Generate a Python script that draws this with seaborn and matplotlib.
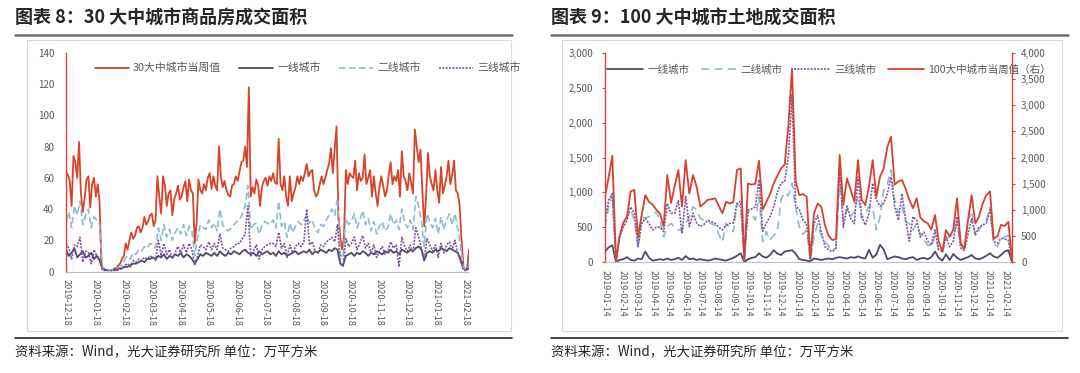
import numpy as np
import pandas as pd
import matplotlib
matplotlib.use("Agg")
import matplotlib.pyplot as plt
from matplotlib.lines import Line2D
from matplotlib.patches import Rectangle
from matplotlib.ticker import FixedLocator, FuncFormatter
import seaborn as sns

sns.set_theme(style="white")
plt.rcParams['font.family'] = ['Noto Sans CJK SC', 'DejaVu Sans']
plt.rcParams['axes.unicode_minus'] = False

# ---------------- Chart 8 data, 万平方米 ----------------
# 30-city total: every 2 days from 2019-12-18
c8_start = "2019-12-18"
c8_total = [64, 62, 58, 42, 74, 70, 60, 83, 50, 38, 47, 59, 61, 41, 56, 60, 48, 56, 44, 4,
            2, 1, 1, 1, 1, 1, 2, 2, 4, 5, 8, 10, 18, 14, 20, 25, 21, 23, 28, 29,
            25, 28, 35, 30, 32, 36, 37, 29, 33,
            61, 48, 37, 61, 55, 42, 50, 52, 36, 46, 50, 55, 46, 48, 54, 58, 45, 59, 52, 50, 18,
            31, 59, 52, 50, 56, 52, 60, 63, 53, 61, 55, 52, 80, 61, 54, 58, 52, 49, 48, 55,
            56, 61, 58, 64, 70, 71, 80, 67, 118, 48, 54, 50, 59, 55, 42, 54, 58, 60, 55, 61,
            58, 63, 57, 56, 85, 56, 52, 61, 48, 42, 61, 45, 50, 54, 61, 56, 61, 58, 63, 69,
            61, 64, 65, 52, 48, 50, 56, 61, 56, 60, 65, 69, 79, 63, 78, 93, 35, 22, 14, 22,
            65, 56, 63, 61, 60, 71, 52, 63, 58, 60, 75, 56, 60, 65, 48, 61, 50, 42, 54, 61,
            55, 48, 52, 62, 70, 56, 61, 58, 65, 48, 77, 61, 58, 52, 63, 57, 50, 91, 80, 70,
            78, 52, 29, 48, 76, 61, 56, 52, 65, 52, 44, 67, 50, 55, 61, 71, 56, 62, 71, 52,
            50, 42, 20, 3, 1, 2, 14]
# tiers: every 3 days from 2019-12-18
c8_tier1 = [14, 10, 12, 15, 9, 11, 13, 9, 10, 12, 8, 10, 7,
            2, 1, 1, 1, 1, 1, 2, 2,
            3, 3, 4, 5, 5, 6, 7, 6, 8, 8, 9, 8,
            10, 9, 11, 8, 10, 9, 11, 10, 12, 9, 11, 10, 8,
            5,
            8, 11, 10, 12, 11, 10, 12, 10, 13, 11, 10, 12, 11, 13, 12, 11, 13, 14, 12,
            11, 12, 10, 13, 11, 12, 13, 11, 12, 10, 13, 11, 12, 10, 11, 12, 13, 11, 12, 13,
            12, 14, 11, 13, 12, 14, 13, 12, 14, 13, 15, 14,
            5, 4,
            10, 11, 12, 10, 12, 11, 13, 12, 10, 12, 11, 13, 12, 11, 13, 12, 14, 12, 13, 11,
            14, 13, 12, 14, 13, 15, 16, 14,
            7,
            12, 13, 12, 14, 13, 15, 14, 13, 15, 14, 13, 12,
            8, 2, 1, 2]
c8_tier2 = [32, 38, 28, 42, 36, 45, 30, 36, 40, 28, 35, 33, 30,
            3, 1, 1, 1, 1, 2, 3, 4,
            8, 10, 8, 12, 11, 14, 13, 16, 15, 18, 17, 15,
            28, 20, 30, 22, 27, 20, 25, 28, 24, 30, 23, 29, 26,
            10,
            22, 30, 28, 27, 33, 28, 31, 26, 40, 30, 27, 26, 28, 30, 32, 33, 37, 42, 55,
            27, 30, 31, 24, 29, 32, 31, 30, 33, 28, 45, 29, 32, 22, 31, 25, 29, 32, 30, 33,
            36, 31, 33, 27, 25, 30, 29, 33, 36, 40, 36, 47,
            11, 9,
            34, 30, 32, 37, 28, 33, 39, 30, 34, 26, 32, 24, 29, 32, 26, 28, 37, 30, 33, 27,
            40, 32, 28, 33, 27, 48, 42, 32,
            16,
            37, 32, 28, 34, 24, 35, 27, 33, 37, 30, 37, 27,
            16, 2, 1, 6]
c8_tier3 = [18, 15, 8, 17, 16, 22, 6, 13, 12, 5, 14, 10, 9,
            1, 0.5, 0.5, 0.5, 0.5, 1, 1, 2,
            4, 5, 3, 7, 6, 8, 7, 9, 8, 10, 9, 7,
            20, 10, 18, 11, 14, 8, 12, 16, 12, 17, 12, 18, 14,
            4,
            10, 17, 16, 14, 19, 14, 18, 14, 24, 15, 14, 13, 15, 16, 18, 18, 21, 24, 42,
            10, 13, 17, 8, 14, 16, 17, 18, 18, 16, 25, 15, 18, 9, 17, 12, 16, 18, 16, 19,
            40, 17, 19, 13, 12, 17, 16, 19, 20, 22, 19, 30,
            5, 3,
            21, 16, 18, 22, 14, 18, 23, 15, 18, 12, 17, 9, 13, 16, 11, 13, 19, 15, 17, 3,
            22, 16, 13, 17, 12, 28, 22, 15,
            8,
            21, 17, 13, 17, 9, 18, 12, 17, 19, 14, 20, 11,
            6, 1, 0.5, 6]
c8_ticks = ["2019-12-18", "2020-01-18", "2020-02-18", "2020-03-18", "2020-04-18",
            "2020-05-18", "2020-06-18", "2020-07-18", "2020-08-18", "2020-09-18",
            "2020-10-18", "2020-11-18", "2020-12-18", "2021-01-18", "2021-02-18"]
c8_labels = ["30大中城市当周值", "一线城市", "二线城市", "三线城市"]

# ---------------- Chart 9 data (weekly from 2019-01-13), 万平方米 ----------------
c9_start = "2019-01-13"
c9_total = [1250, 1620, 2035, 20, 500, 750, 870, 1350, 1380, 480,
            900, 1280, 1150, 1100, 1000, 930, 680, 1665, 1130, 1450,
            1760, 1060, 1950, 1310, 1665, 1440, 1060, 1120, 1190, 1200,
            1220, 1080, 930, 1150, 1120, 1150, 1760, 1790, 30, 1500,
            1480, 1500, 1940, 1000, 1150, 1300, 1500, 1650, 1790, 1860,
            2600, 3700, 1540, 1280, 1300, 1250, 80, 930, 1120, 1060,
            700, 500, 420, 440, 2050, 1090, 1600, 1380, 1150, 1950,
            1190, 1090, 1450, 1950, 1250, 1630, 1790, 2200, 2400, 1480,
            1540, 1570, 1400, 1190, 1030, 1220, 850, 780, 740, 620,
            900, 400, 200, 610, 490, 620, 1220, 360, 260, 800,
            1280, 740, 870, 1120, 1280, 1350, 450, 490, 710, 690,
            770, 40]
c9_tier1 = [150, 210, 240, 0, 30, 40, 70, 30, 20, 50,
            40, 150, 60, 20, 30, 40, 30, 50, 30, 40,
            60, 30, 85, 40, 50, 30, 40, 30, 20, 30,
            50, 40, 30, 20, 40, 60, 90, 125, 0, 40,
            60, 70, 125, 80, 60, 100, 170, 120, 100, 150,
            160, 170, 120, 40, 30, 20, 10, 50, 40, 30,
            40, 50, 40, 60, 70, 60, 50, 70, 60, 80,
            60, 50, 175, 60, 110, 245, 180, 40, 60, 80,
            70, 50, 40, 60, 70, 30, 50, 60, 40, 70,
            150, 60, 20, 110, 30, 115, 60, 30, 50, 70,
            100, 50, 40, 60, 90, 125, 80, 60, 100, 150,
            170, 0]
c9_tier2 = [500, 790, 985, 0, 410, 555, 650, 746, 600, 220,
            650, 630, 650, 674, 722, 600, 363, 507, 555, 500,
            460, 459, 555, 650, 793, 746, 626, 600, 578, 550,
            530, 400, 292, 555, 500, 435, 841, 793, 30, 746,
            680, 602, 937, 292, 435, 315, 380, 435, 889, 1000,
            950, 1130, 793, 500, 400, 460, 30, 360, 550, 380,
            290, 230, 170, 200, 1200, 600, 750, 650, 720, 950,
            630, 700, 800, 790, 460, 650, 1030, 1120, 1320, 900,
            700, 800, 580, 550, 460, 550, 390, 320, 240, 220,
            370, 170, 130, 320, 360, 400, 550, 270, 150, 600,
            730, 380, 460, 550, 580, 790, 270, 220, 320, 360,
            380, 20]
c9_tier3 = [600, 890, 975, 0, 360, 500, 600, 790, 700, 220,
            550, 626, 550, 460, 500, 500, 435, 840, 700, 700,
            880, 410, 940, 510, 700, 560, 510, 540, 600, 580,
            555, 500, 460, 520, 555, 560, 840, 870, 30, 750,
            760, 790, 1180, 440, 560, 650, 790, 1000, 1130, 1160,
            1500, 2400, 800, 750, 600, 550, 30, 550, 670, 430,
            220, 170, 150, 200, 1370, 500, 800, 620, 550, 1220,
            650, 530, 700, 1130, 890, 800, 840, 980, 1220, 800,
            600, 980, 600, 300, 650, 600, 360, 430, 300, 240,
            460, 180, 150, 360, 220, 300, 650, 200, 170, 400,
            620, 390, 500, 530, 560, 750, 290, 270, 340, 330,
            310, 30]
c9_ticks = ["2019-01-14", "2019-02-14", "2019-03-14", "2019-04-14", "2019-05-14",
            "2019-06-14", "2019-07-14", "2019-08-14", "2019-09-14", "2019-10-14",
            "2019-11-14", "2019-12-14", "2020-01-14", "2020-02-14", "2020-03-14",
            "2020-04-14", "2020-05-14", "2020-06-14", "2020-07-14", "2020-08-14",
            "2020-09-14", "2020-10-14", "2020-11-14", "2020-12-14", "2021-01-14",
            "2021-02-14"]
c9_labels = ["一线城市", "二线城市", "三线城市", "100大中城市当周值（右）"]

# ---------------- styling ----------------
W, H = 1080, 373
RED8 = "#D8442A"
RED9 = "#D8412F"
SPINE_RED = "#E0403A"
T1 = "#4B4A6C"
T2 = "#8DBCCD"
T3 = "#7E55A0"
GRAY_TXT = "#595959"
AX_GRAY = "#BFBFBF"

def fx(x):
    return x / W

def fy(y):
    return 1 - y / H

fig = plt.figure(figsize=(W / 100, H / 100), dpi=100)
fig.patch.set_facecolor("white")

d8r = pd.DataFrame({"date": pd.date_range(c8_start, periods=len(c8_total), freq="2D"),
                    "total": c8_total})
d8 = pd.DataFrame({
    "date": pd.date_range(c8_start, periods=len(c8_tier1), freq="3D"),
    "t1": c8_tier1, "t2": c8_tier2, "t3": c8_tier3})
d9 = pd.DataFrame({
    "date": pd.date_range(c9_start, periods=len(c9_total), freq="7D"),
    "total": c9_total, "t1": c9_tier1, "t2": c9_tier2, "t3": c9_tier3})

# ---- decorations: titles, rules, frames, source ----
for x0, x1, title in [(15, 512, "图表 8：30 大中城市商品房成交面积"),
                      (551, 1068, "图表 9：100 大中城市土地成交面积")]:
    fig.text(fx(x0), fy(18), title, fontsize=13, fontweight="bold",
             color="#262626", va="center", ha="left")
    fig.add_artist(Line2D([fx(x0), fx(x1)], [fy(34.5), fy(34.5)],
                          transform=fig.transFigure, color="#6E6E6E", lw=1.8))
    fig.add_artist(Line2D([fx(x0), fx(x1)], [fy(338), fy(338)],
                          transform=fig.transFigure, color="#262626", lw=1.2))
    fig.text(fx(x0), fy(352), "资料来源：Wind，光大证券研究所 单位：万平方米",
             fontsize=9.6, color="#262626", va="center", ha="left")
for x0, x1 in [(27, 511), (562, 1062)]:
    fig.add_artist(Rectangle((fx(x0), fy(331)), fx(x1) - fx(x0), fy(40) - fy(331),
                             transform=fig.transFigure, fill=False,
                             edgecolor="#D9D9D9", lw=0.8))

# ---------------- Chart 8 ----------------
ax8 = fig.add_axes([fx(66), fy(271.5), fx(469) - fx(66), fy(53) - fy(271.5)])
ax8.set_facecolor("none")
sns.lineplot(data=d8r, x="date", y="total", ax=ax8, color=RED8, lw=1.3,
             estimator=None, legend=False)
sns.lineplot(data=d8, x="date", y="t1", ax=ax8, color=T1, lw=1.3,
             estimator=None, legend=False)
sns.lineplot(data=d8, x="date", y="t2", ax=ax8, color=T2, lw=1.2,
             estimator=None, legend=False)
ax8.lines[-1].set_dashes([4, 2])
sns.lineplot(data=d8, x="date", y="t3", ax=ax8, color=T3, lw=1.2,
             estimator=None, legend=False)
ax8.lines[-1].set_dashes([1.2, 0.8])

ax8.set_ylim(0, 140)
ax8.set_xlim(d8r["date"].iloc[0], d8r["date"].iloc[-1])
ax8.yaxis.set_major_locator(FixedLocator(range(0, 141, 20)))
t8 = pd.to_datetime(c8_ticks)
ax8.set_xticks(t8)
ax8.set_xticklabels(c8_ticks, rotation=-90, fontsize=6.5, color=GRAY_TXT)
ax8.tick_params(axis="y", labelsize=7, labelcolor=GRAY_TXT, length=2.5,
                color=SPINE_RED, width=0.8, pad=6)
ax8.tick_params(axis="x", length=2.5, color=AX_GRAY, width=0.8, pad=3)
ax8.set_xlabel("")
ax8.set_ylabel("")
for s in ["top", "right"]:
    ax8.spines[s].set_visible(False)
ax8.spines["left"].set_color(SPINE_RED)
ax8.spines["left"].set_linewidth(1.0)
ax8.spines["bottom"].set_color(AX_GRAY)
ax8.spines["bottom"].set_linewidth(0.8)
ax8.grid(False)

h8 = [Line2D([], [], color=RED8, lw=1.3),
      Line2D([], [], color=T1, lw=1.3),
      Line2D([], [], color=T2, lw=1.2, dashes=[4, 2]),
      Line2D([], [], color=T3, lw=1.2, dashes=[1.2, 0.8])]
fig.legend(h8, c8_labels, loc="center left", bbox_to_anchor=(fx(95), fy(68)),
           ncol=4, frameon=False, fontsize=7.8, handlelength=3.1,
           handletextpad=0.4, columnspacing=1.7, borderaxespad=0, borderpad=0,
           labelcolor=GRAY_TXT)

# ---------------- Chart 9 ----------------
ax9 = fig.add_axes([fx(605), fy(262), fx(1012) - fx(605), fy(53) - fy(262)])
ax9.set_facecolor("none")
sns.lineplot(data=d9, x="date", y="t1", ax=ax9, color=T1, lw=1.3,
             estimator=None, legend=False)
sns.lineplot(data=d9, x="date", y="t2", ax=ax9, color=T2, lw=1.2,
             estimator=None, legend=False)
ax9.lines[-1].set_dashes([5, 3])
sns.lineplot(data=d9, x="date", y="t3", ax=ax9, color=T3, lw=1.2,
             estimator=None, legend=False)
ax9.lines[-1].set_dashes([1.2, 0.8])
ax9r = ax9.twinx()
sns.lineplot(data=d9, x="date", y="total", ax=ax9r, color=RED9, lw=1.3,
             estimator=None, legend=False)

ax9.set_ylim(0, 3000)
ax9r.set_ylim(0, 4000)
ax9.set_xlim(d9["date"].iloc[0], d9["date"].iloc[-1])
comma = FuncFormatter(lambda v, p: f"{int(v):,}")
ax9.yaxis.set_major_locator(FixedLocator(range(0, 3001, 500)))
ax9r.yaxis.set_major_locator(FixedLocator(range(0, 4001, 500)))
ax9.yaxis.set_major_formatter(comma)
ax9r.yaxis.set_major_formatter(comma)
t9 = pd.to_datetime(c9_ticks)
ax9.set_xticks(t9)
ax9.set_xticklabels(c9_ticks, rotation=-90, fontsize=6.5, color=GRAY_TXT)
ax9.tick_params(axis="y", labelsize=7, labelcolor=GRAY_TXT, length=2.5,
                color=SPINE_RED, width=0.8, pad=6)
ax9r.tick_params(axis="y", labelsize=7, labelcolor=GRAY_TXT, length=2.5,
                 color=SPINE_RED, width=0.8, pad=4)
ax9.tick_params(axis="x", length=2.5, color=AX_GRAY, width=0.8, pad=3)
for a in (ax9, ax9r):
    a.set_xlabel("")
    a.set_ylabel("")
    a.grid(False)
    a.spines["top"].set_visible(False)
ax9.spines["right"].set_visible(False)
ax9.spines["left"].set_color(SPINE_RED)
ax9.spines["left"].set_linewidth(1.0)
ax9r.spines["left"].set_visible(False)
ax9r.spines["right"].set_color(SPINE_RED)
ax9r.spines["right"].set_linewidth(1.0)
ax9r.spines["bottom"].set_visible(False)
ax9.spines["bottom"].set_color(AX_GRAY)
ax9.spines["bottom"].set_linewidth(0.8)

h9 = [Line2D([], [], color=T1, lw=1.3),
      Line2D([], [], color=T2, lw=1.2, dashes=[5, 3]),
      Line2D([], [], color=T3, lw=1.2, dashes=[1.2, 0.8]),
      Line2D([], [], color=RED9, lw=1.3)]
fig.legend(h9, c9_labels, loc="center left", bbox_to_anchor=(fx(607), fy(70)),
           ncol=4, frameon=False, fontsize=7.6, handlelength=3.4,
           handletextpad=0.4, columnspacing=1.1, borderaxespad=0, borderpad=0,
           labelcolor=GRAY_TXT)

fig.savefig("out.png", dpi=100, facecolor="white")
